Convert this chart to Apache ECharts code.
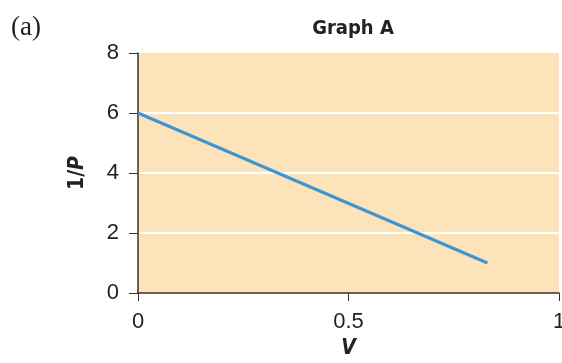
<!DOCTYPE html>
<html>
<head>
<meta charset="utf-8">
<script src="https://cdn.jsdelivr.net/npm/echarts@6/dist/echarts.min.js"></script>
<style>
  html, body { margin: 0; padding: 0; background: #fff; }
  #main { width: 562px; height: 363px; }
</style>
</head>
<body>
<div id="main"></div>
<script>
// line end points (V, 1/P)
var lineV = [0, 0.83];
var lineInvP = [6, 1];
var xTicks = [0, 0.5, 1];
var yTicks = [0, 2, 4, 6, 8];

var mychart = echarts.init(document.getElementById('main'));
var pts = lineV.map(function (v, i) { return [v, lineInvP[i]]; });

mychart.setOption({
    animation: false,
    textStyle: { fontFamily: 'Liberation Sans' },
    title: {
        text: 'Graph A',
        left: 348,
        textAlign: 'center',
        top: 14,
        textStyle: {
            fontFamily: 'DejaVu Sans Condensed',
            fontWeight: 'bold',
            fontSize: 20,
            color: '#222'
        }
    },
    graphic: [{
        type: 'text',
        left: 11,
        top: 14,
        style: {
            text: '(a)',
            font: '27px "Liberation Serif"',
            fill: '#222'
        }
    }],
    grid: {
        left: 138, right: 3, top: 53, bottom: 70,
        outerBoundsMode: 'none',
        containLabel: false,
        show: true,
        backgroundColor: '#fde3b9',
        borderWidth: 0
    },
    xAxis: {
        type: 'value',
        min: 0, max: 1, interval: 0.5,
        name: 'V',
        nameLocation: 'middle',
        nameGap: 44,
        nameTextStyle: {
            fontFamily: 'DejaVu Sans Condensed',
            fontWeight: 'bold',
            fontStyle: 'italic',
            fontSize: 21,
            color: '#222'
        },
        axisLine: { show: true, lineStyle: { color: '#333', width: 1.5 } },
        axisTick: { show: true, length: 8, lineStyle: { color: '#333' } },
        axisLabel: {
            fontSize: 22, color: '#222', margin: 18,
            formatter: function (v) { return xTicks.indexOf(v) >= 0 ? String(v) : ''; }
        },
        splitLine: { show: false }
    },
    yAxis: {
        type: 'value',
        min: 0, max: 8, interval: 2,
        name: '{a|1/}{b|P}',
        nameLocation: 'middle',
        nameGap: 50,
        nameTextStyle: {
            rich: {
                a: { fontFamily: 'DejaVu Sans Condensed', fontWeight: 'bold', fontSize: 21, color: '#222' },
                b: { fontFamily: 'DejaVu Sans Condensed', fontWeight: 'bold', fontStyle: 'italic', fontSize: 21, color: '#222' }
            }
        },
        axisLine: { show: true, lineStyle: { color: '#333', width: 1.5 } },
        axisTick: { show: true, length: 9, lineStyle: { color: '#333' } },
        axisLabel: {
            fontSize: 22, color: '#222', margin: 19,
            formatter: function (v) { return yTicks.indexOf(v) >= 0 ? String(v) : ''; }
        },
        splitLine: {
            show: true,
            lineStyle: { color: '#fff', width: 2 },
            showMaxLine: false,
            showMinLine: false
        }
    },
    series: [{
        type: 'line',
        data: pts,
        symbol: 'none',
        lineStyle: { color: '#3d95d5', width: 3 }
    }]
});
</script>
</body>
</html>
